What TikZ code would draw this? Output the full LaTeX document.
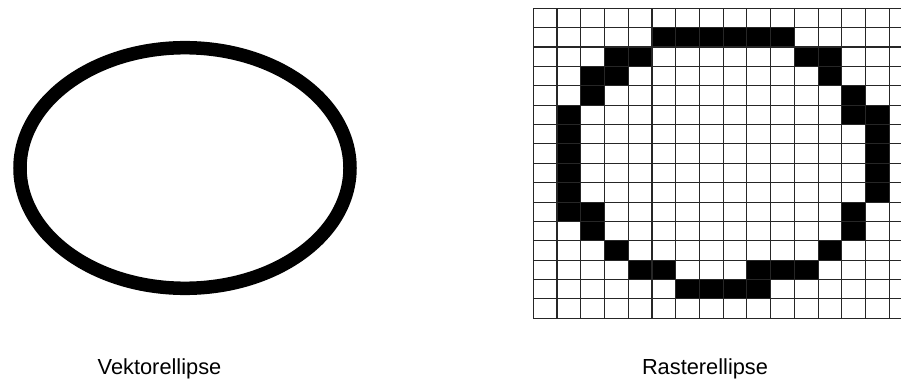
\documentclass[tikz,border=0pt]{standalone}
\usepackage{fontspec}
\setmainfont{Liberation Sans}
\begin{document}
\begin{tikzpicture}[x=1pt, y=-1pt,
    vektorlinie/.style={draw=black, line width=13.5pt},
    pixel/.style={fill=black},
    rasterlinie/.style={draw=black!85, line width=1.1pt},
    beschriftung/.style={font=\fontsize{21.8}{26}\selectfont, anchor=base, inner sep=0pt}
  ]
    \useasboundingbox (0,0) rectangle (901,385);
    \def\zellw{23.73}
    \def\zellh{19.375}

    % Vektorellipse (links)
    \draw[vektorlinie] (185,168) ellipse [x radius=165pt, y radius=120.3pt];

    % Rasterellipse (rechts): gesetzte Pixel
    \foreach \s/\z in {5/1,6/1,7/1,8/1,9/1,10/1,
                       3/2,4/2,11/2,12/2,
                       2/3,3/3,12/3,
                       2/4,13/4,
                       1/5,13/5,14/5,
                       1/6,14/6, 1/7,14/7, 1/8,14/8, 1/9,14/9,
                       1/10,2/10,13/10,
                       2/11,13/11,
                       3/12,12/12,
                       4/13,5/13,9/13,10/13,11/13,
                       6/14,7/14,8/14,9/14}
      \fill[pixel] ({533.3+\s*\zellw},{8.3+\z*\zellh}) rectangle +(\zellw,\zellh);

    % Raster
    \foreach \z in {0,...,16}
      \draw[rasterlinie] (533.3,{8.3+\z*\zellh}) -- (901,{8.3+\z*\zellh});
    \foreach \s in {0,...,15}
      \draw[rasterlinie] ({533.3+\s*\zellw},8.3) -- ({533.3+\s*\zellw},318.3);

    % Beschriftungen
    \node[beschriftung] (vektortext) at (159.5,374) {Vektorellipse};
    \node[beschriftung] (rastertext) at (705,374) {Rasterellipse};

  \end{tikzpicture}
\end{document}
